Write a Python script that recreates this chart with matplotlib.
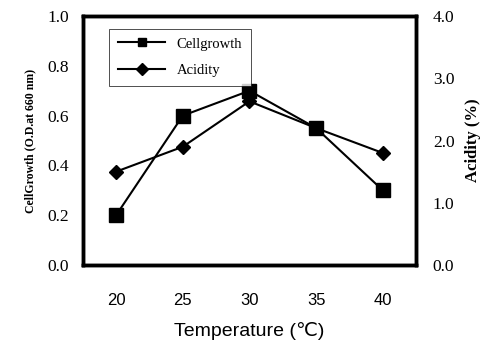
import matplotlib
matplotlib.use('Agg')
import matplotlib.pyplot as plt

temps = ['20', '25', '30', '35', '40']
cell_growth = [0.20, 0.60, 0.70, 0.55, 0.30]
acidity = [1.50, 1.90, 2.63, 2.20, 1.80]
left_ticks = [0.0, 0.2, 0.4, 0.6, 0.8, 1.0]
right_ticks = [0.0, 1.0, 2.0, 3.0, 4.0]

serif = 'Liberation Serif'

fig = plt.figure(figsize=(4.93, 3.5), dpi=100)
ax = fig.add_axes([0.168, 0.243, 0.676, 0.711])
x = list(range(len(temps)))

l1, = ax.plot(x, cell_growth, color='black', lw=1.5, marker='s', ms=10, label='Cellgrowth')
ax.set_ylim(0, 1.0)
ax.set_xlim(-0.5, len(temps) - 0.5)
ax.set_yticks(left_ticks)
ax.set_yticklabels([f'{v:.1f}' for v in left_ticks], fontfamily=serif, fontsize=12.5)
ax.set_xticks(x)
ax.set_xticklabels(temps, fontfamily='Liberation Sans', fontsize=12)
ax.tick_params(length=0, pad=10)
ax.tick_params(axis='x', pad=20)

ax2 = ax.twinx()
l2, = ax2.plot(x, acidity, color='black', lw=1.5, marker='D', ms=7, label='Acidity')
ax2.set_ylim(0, 4.0)
ax2.set_yticks(right_ticks)
ax2.set_yticklabels([f'{v:.1f}' for v in right_ticks], fontfamily=serif, fontsize=12.5)
ax2.tick_params(length=0, pad=12)

for a in (ax, ax2):
    for s in a.spines.values():
        s.set_linewidth(2.5)

ax.set_ylabel('CellGrowth (O.D.at 660 nm)', fontfamily=serif, fontsize=8.5,
              fontweight='bold', labelpad=8)
ax2.set_ylabel('Acidity (%)', fontfamily=serif, fontsize=12,
               fontweight='bold', labelpad=8)
ax.set_xlabel('Temperature (℃)', fontfamily=['Liberation Sans', 'DejaVu Sans'],
              fontsize=14, labelpad=10)

leg = ax2.legend(handles=[l1, l2], loc='upper left', bbox_to_anchor=(0.08, 0.95),
                 frameon=True, fancybox=False, edgecolor='black',
                 prop={'family': serif, 'size': 10.5}, handlelength=3.2,
                 borderpad=0.6, labelspacing=0.9, borderaxespad=0)
leg.get_frame().set_linewidth(0.6)
for h in leg.legend_handles:
    h.set_markersize(6)

fig.savefig('out.png', dpi=100)
